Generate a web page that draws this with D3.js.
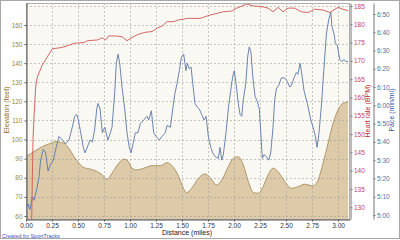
<!DOCTYPE html>
<html>
<head>
<meta charset="utf-8">
<script src="https://cdn.jsdelivr.net/npm/d3@7"></script>
<style>
  body { margin: 0; background: #fff; }
  svg text { font-family: "Liberation Sans", Arial, sans-serif; }
</style>
</head>
<body>
<div id="chart"></div>
<script>
// distance (miles) / elevation (feet)
const elevDist = [0.00, 0.077, 0.157, 0.221, 0.286, 0.317, 0.365, 0.413, 0.462, 0.510, 0.558, 0.622, 0.686, 0.734, 0.779, 0.827, 0.891, 0.939, 0.971, 1.019, 1.067, 1.132, 1.212, 1.292, 1.356, 1.404, 1.452, 1.481, 1.513, 1.545, 1.593, 1.657, 1.721, 1.769, 1.834, 1.882, 1.945, 1.993, 2.041, 2.089, 2.138, 2.186, 2.234, 2.279, 2.327, 2.375, 2.423, 2.488, 2.551, 2.615, 2.680, 2.760, 2.808, 2.856, 2.904, 2.952, 3.000, 3.048, 3.096];
const elevation = [91.0, 93.7, 96.3, 97.7, 98.9, 98.7, 98.1, 95.4, 91.0, 87.6, 85.3, 84.5, 83.2, 81.5, 79.2, 82.4, 87.6, 89.7, 89.3, 85.0, 84.1, 85.0, 86.3, 86.3, 87.9, 86.3, 82.4, 78.8, 74.5, 72.2, 74.5, 79.7, 82.0, 80.1, 76.2, 78.8, 85.8, 90.2, 91.0, 86.7, 78.0, 72.2, 71.9, 75.3, 81.5, 85.0, 83.2, 78.0, 74.5, 75.3, 76.6, 75.7, 78.8, 87.6, 98.1, 108.5, 115.5, 119.0, 119.7];

// distance / heart rate (BPM)
const hrDist = [0.051, 0.067, 0.077, 0.093, 0.109, 0.157, 0.205, 0.253, 0.334, 0.397, 0.462, 0.558, 0.589, 0.686, 0.734, 0.763, 0.795, 0.859, 0.923, 0.971, 1.019, 1.084, 1.147, 1.212, 1.260, 1.308, 1.356, 1.420, 1.468, 1.519, 1.545, 1.673, 1.769, 1.897, 1.978, 2.026, 2.122, 2.186, 2.269, 2.327, 2.375, 2.423, 2.471, 2.519, 2.584, 2.647, 2.712, 2.776, 2.856, 2.920, 3.000, 3.048, 3.096];
const heartRate = [120, 148.4, 154.7, 162.9, 165.6, 168.9, 171.1, 173.3, 173.6, 174.1, 174.8, 175.0, 175.5, 175.7, 176.3, 175.7, 176.8, 176.8, 176.6, 175.5, 176.4, 177.3, 177.8, 178.0, 178.9, 179.5, 180.7, 180.7, 181.2, 181.4, 181.6, 181.6, 182.5, 183.4, 183.6, 184.4, 185.5, 185.0, 184.8, 184.4, 183.4, 184.6, 183.4, 184.4, 184.4, 183.4, 183.2, 184.1, 183.9, 183.2, 184.6, 184.1, 183.7];

// distance / pace (seconds per mile)
const paceDist = [0.00, 0.019, 0.038, 0.061, 0.077, 0.103, 0.125, 0.141, 0.166, 0.189, 0.212, 0.238, 0.263, 0.286, 0.317, 0.349, 0.382, 0.413, 0.445, 0.468, 0.488, 0.503, 0.526, 0.551, 0.567, 0.589, 0.615, 0.638, 0.661, 0.680, 0.692, 0.712, 0.734, 0.757, 0.788, 0.811, 0.827, 0.853, 0.868, 0.885, 0.901, 0.923, 0.949, 0.971, 0.993, 1.010, 1.029, 1.051, 1.077, 1.099, 1.132, 1.163, 1.180, 1.205, 1.228, 1.250, 1.282, 1.308, 1.339, 1.356, 1.388, 1.411, 1.430, 1.452, 1.474, 1.493, 1.516, 1.538, 1.551, 1.570, 1.587, 1.603, 1.625, 1.647, 1.666, 1.689, 1.712, 1.731, 1.753, 1.776, 1.795, 1.817, 1.849, 1.865, 1.882, 1.897, 1.923, 1.945, 1.968, 1.988, 2.003, 2.019, 2.041, 2.058, 2.074, 2.089, 2.113, 2.132, 2.147, 2.163, 2.180, 2.202, 2.224, 2.243, 2.255, 2.272, 2.288, 2.311, 2.334, 2.353, 2.375, 2.391, 2.407, 2.430, 2.455, 2.488, 2.513, 2.536, 2.551, 2.577, 2.599, 2.615, 2.635, 2.647, 2.673, 2.705, 2.738, 2.760, 2.782, 2.798, 2.817, 2.839, 2.863, 2.888, 2.911, 2.930, 2.942, 2.962, 2.974, 2.993, 3.016, 3.038, 3.058, 3.077, 3.096];
const pace = [304, 306, 303, 310, 308, 314, 321, 330, 336, 334, 324, 328, 330, 336, 343, 341, 339, 341, 348, 354, 355, 352, 345, 337, 334, 337, 341, 340, 347, 358, 361, 358, 345, 348, 341, 345, 348, 367, 383, 388, 383, 370, 358, 345, 337, 334, 339, 345, 345, 350, 352, 354, 352, 357, 345, 343, 341, 343, 345, 349, 348, 358, 366, 372, 379, 386, 388, 379, 383, 380, 381, 372, 361, 359, 358, 355, 352, 354, 343, 337, 334, 332, 331, 337, 330, 333, 345, 358, 368, 376, 379, 372, 361, 355, 354, 363, 372, 387, 392, 389, 376, 365, 362, 358, 347, 331, 333, 332, 330, 334, 348, 363, 369, 371, 375, 375, 373, 370, 371, 375, 378, 377, 383, 379, 368, 361, 352, 348, 343, 337, 345, 359, 379, 399, 407, 411, 403, 399, 394, 393, 385, 384, 385, 384, 384];

// tick labels
const distTicks = [0, 0.25, 0.5, 0.75, 1, 1.25, 1.5, 1.75, 2, 2.25, 2.5, 2.75, 3];
const elevTicks = [60, 70, 80, 90, 100, 110, 120, 130, 140, 150, 160];
const hrTicks = [130, 135, 140, 145, 150, 155, 160, 165, 170, 175, 180, 185];
const paceTicks = [300, 310, 320, 330, 340, 350, 360, 370, 380, 390, 400, 410];

const W = 400, H = 240;
const plotL = 26, plotR = 350, plotT = 3, plotB = 219;

const svg = d3.select("#chart").append("svg")
    .attr("width", W)
    .attr("height", H);

svg.append("rect").attr("x", 0.5).attr("y", 0.5).attr("width", W - 1).attr("height", H - 2)
    .attr("fill", "#ffffff").attr("stroke", "#a8a8a8");

const x = d3.scaleLinear().domain([0, 3.115]).range([plotL, plotR]);
const yE = d3.scaleLinear().domain([58.4, 171.5]).range([plotB, plotT]);
const yH = d3.scaleLinear().domain([126.8, 185.8]).range([plotB, plotT]);
const yP = d3.scaleLinear().domain([297.8, 416]).range([plotB, plotT]);

svg.append("clipPath").attr("id", "plotClip")
    .append("rect").attr("x", plotL).attr("y", plotT).attr("width", plotR - plotL).attr("height", plotB - plotT);

svg.append("rect")
    .attr("x", plotL).attr("y", plotT)
    .attr("width", plotR - plotL).attr("height", plotB - plotT)
    .attr("fill", "#f9f8f2");

const plot = svg.append("g").attr("clip-path", "url(#plotClip)");

// elevation area
const elevData = elevDist.map((d, i) => [d, elevation[i]]);
plot.append("path")
    .datum(elevData)
    .attr("fill", "#dccaa9")
    .attr("d", d3.area().x(d => x(d[0])).y0(plotB).y1(d => yE(d[1])).curve(d3.curveMonotoneX));

// grid
plot.append("g").selectAll("line").data(distTicks.slice(1)).enter().append("line")
    .attr("x1", d => Math.round(x(d)) + 0.5).attr("x2", d => Math.round(x(d)) + 0.5)
    .attr("y1", plotT).attr("y2", plotB)
    .attr("stroke", "#9a9a9a").attr("stroke-opacity", 0.55).attr("stroke-dasharray", "2,2");
plot.append("g").selectAll("line").data(elevTicks.concat([170])).enter().append("line")
    .attr("x1", plotL).attr("x2", plotR)
    .attr("y1", d => Math.round(yE(d)) + 0.5).attr("y2", d => Math.round(yE(d)) + 0.5)
    .attr("stroke", "#9a9a9a").attr("stroke-opacity", 0.55).attr("stroke-dasharray", "2,2");

plot.append("path")
    .datum(elevData)
    .attr("fill", "none")
    .attr("stroke", "#a88c5c")
    .attr("stroke-width", 0.9)
    .attr("d", d3.line().x(d => x(d[0])).y(d => yE(d[1])).curve(d3.curveMonotoneX));

// pace line
plot.append("path")
    .datum(paceDist.map((d, i) => [d, pace[i]]))
    .attr("fill", "none")
    .attr("stroke", "#5b77a8")
    .attr("stroke-width", 0.9)
    .attr("d", d3.line().x(d => x(d[0])).y(d => yP(d[1])));

// heart rate line
plot.append("path")
    .datum(hrDist.map((d, i) => [d, heartRate[i]]))
    .attr("fill", "none")
    .attr("stroke", "#d05656")
    .attr("stroke-width", 0.9)
    .attr("d", d3.line().x(d => x(d[0])).y(d => yH(d[1])));

// plot frame
svg.append("rect")
    .attr("x", plotL + 0.5).attr("y", plotT + 0.5)
    .attr("width", plotR - plotL - 1).attr("height", plotB - plotT)
    .attr("fill", "none").attr("stroke", "#b0b0b0");

function styleAxis(g, color, lineColor) {
    g.selectAll("text").style("font-size", "6.5px").attr("fill", color);
    g.selectAll("line").attr("stroke", lineColor);
    g.select(".domain").attr("stroke", lineColor);
}

const xAxis = svg.append("g")
    .attr("transform", `translate(0, ${plotB + 0.5})`)
    .call(d3.axisBottom(x).tickValues(distTicks).tickFormat(d3.format(".2f")).tickSize(2).tickSizeOuter(0).tickPadding(1.5));
styleAxis(xAxis, "#333", "#555");

const eAxis = svg.append("g")
    .attr("transform", `translate(${plotL + 0.5}, 0)`)
    .call(d3.axisLeft(yE).tickValues(elevTicks).tickSize(2).tickSizeOuter(0).tickPadding(2));
styleAxis(eAxis, "#a4862e", "#555");

const hAxis = svg.append("g")
    .attr("transform", `translate(${plotR + 0.5}, 0)`)
    .call(d3.axisRight(yH).tickValues(hrTicks).tickSize(2).tickSizeOuter(0).tickPadding(1.5));
styleAxis(hAxis, "#c04848", "#777");

const paceFmt = s => Math.floor(s / 60) + ":" + String(s % 60).padStart(2, "0");
const pAxis = svg.append("g")
    .attr("transform", `translate(373.5, 0)`)
    .call(d3.axisRight(yP).tickValues(paceTicks).tickFormat(paceFmt).tickSize(2).tickSizeOuter(0).tickPadding(1.5));
styleAxis(pAxis, "#5070a0", "#777");

// axis titles
svg.append("text")
    .attr("transform", "translate(9, 110) rotate(-90)")
    .style("text-anchor", "middle").style("font-size", "7px")
    .attr("fill", "#8d6d1c")
    .text("Elevation (feet)");

svg.append("text")
    .attr("transform", "translate(370, 111) rotate(-90)")
    .style("text-anchor", "middle").style("font-size", "7px")
    .attr("fill", "#b82a2a")
    .text("Heart rate (BPM)");

svg.append("text")
    .attr("transform", "translate(394, 110) rotate(-90)")
    .style("text-anchor", "middle").style("font-size", "7px")
    .attr("fill", "#2f4f9a")
    .text("Pace (min/mi)");

svg.append("text")
    .attr("x", 187).attr("y", 235)
    .style("text-anchor", "middle").style("font-size", "7px")
    .attr("fill", "#222")
    .text("Distance (miles)");

svg.append("text")
    .attr("x", 2).attr("y", 238)
    .style("font-size", "5.5px")
    .attr("fill", "#3355cc")
    .text("Created by SportTracks");
</script>
</body>
</html>
